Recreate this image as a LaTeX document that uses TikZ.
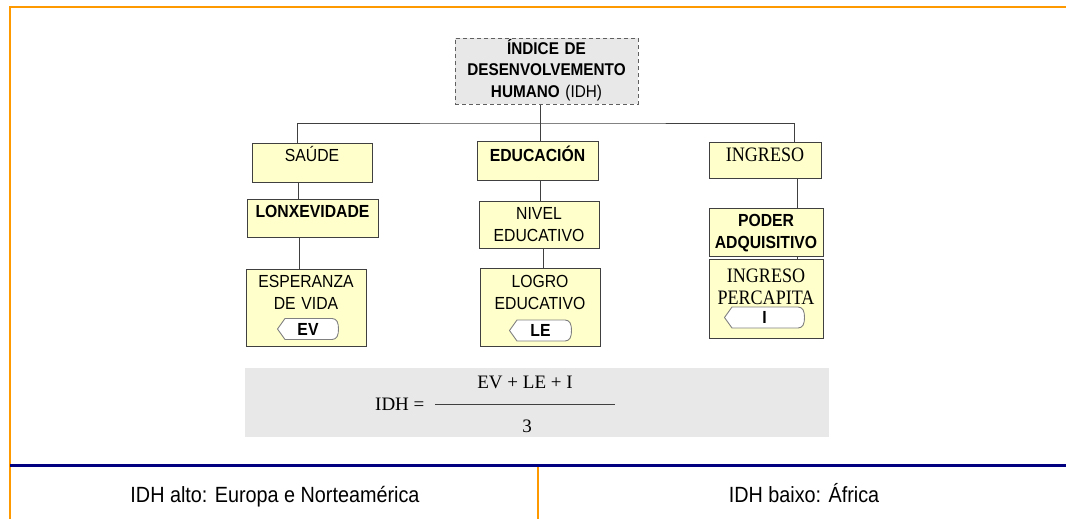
\documentclass[tikz,border=0pt]{standalone}
\usepackage{fontspec}
\setmainfont{Liberation Sans}[FakeStretch=0.9]
\newfontfamily\timesfont{Liberation Serif}[FakeStretch=0.88]
\newfontfamily\formulafont{Liberation Serif}
\newcommand{\cellfont}{\fontsize{17.5}{22}\selectfont}
\newcommand{\cellroman}{\timesfont\fontsize{20.5}{20.5}\selectfont}
\newcommand{\topfont}{\fontsize{17}{21.5}\selectfont}
\definecolor{frameorange}{HTML}{FF9900}
\definecolor{framenavy}{HTML}{000080}
\definecolor{cellyellow}{HTML}{FFFFCC}
\definecolor{panelgray}{HTML}{E8E8E8}
\definecolor{linegray}{HTML}{404040}
\definecolor{dashgray}{HTML}{606060}
\definecolor{taggray}{HTML}{808080}

\begin{document}
\begin{tikzpicture}
[x=1pt,y=-1pt,
  cell/.style={draw=linegray,fill=cellyellow,line width=0.9pt,inner sep=0pt,align=center,font=\cellfont},%
  idhbox/.style={cell,fill=panelgray,draw=dashgray,dash pattern=on 4pt off 3pt,font=\topfont},%
  link/.style={draw=linegray,line width=0.9pt},%
  tag/.style={inner sep=0pt,minimum height=22pt,font=\cellfont\bfseries,
    path picture={\filldraw[fill=white,draw=taggray,line width=0.9pt]
      ([xshift=.5pt]path picture bounding box.west)
      -- ([xshift=8pt,yshift=-.5pt]path picture bounding box.north west)
      -- ([xshift=-7pt,yshift=-.5pt]path picture bounding box.north east)
      .. controls ([xshift=-2pt,yshift=-.5pt]path picture bounding box.north east) and ([xshift=-.5pt,yshift=-5pt]path picture bounding box.north east) .. ([xshift=-.5pt]path picture bounding box.east)
      .. controls ([xshift=-.5pt,yshift=5pt]path picture bounding box.south east) and ([xshift=-2pt,yshift=.5pt]path picture bounding box.south east) .. ([xshift=-7pt,yshift=.5pt]path picture bounding box.south east)
      -- ([xshift=8pt,yshift=.5pt]path picture bounding box.south west) -- cycle;}},%
  mathtext/.style={inner sep=0pt,font=\formulafont\fontsize{19}{21}\selectfont},%
  foot/.style={inner sep=0pt,font=\fontsize{22}{24}\selectfont}]
\useasboundingbox (0,0) rectangle (1066,519);
%% frame lines
\draw[frameorange,line width=2pt] (9,7.5) -- (1066,7.5);
\draw[frameorange,line width=2pt] (10,7) -- (10,519);
\draw[framenavy,line width=3.2pt] (10,465.5) -- (1066,465.5);
\draw[frameorange,line width=1.2pt] (538,467) -- (538,519);
%% top box
\node[idhbox,anchor=north,text width=183pt,text height=16pt,text depth=50pt] (idh) at (546.5,38)
  {\bfseries ÍNDICE DE\\DESENVOLVEMENTO\\HUMANO \mdseries(IDH)};
%% the boxes
\foreach \nm/\cx/\ty/\bw/\bht/\bdp/\txt in {
  saude/312/143/120/18/21/{SAÚDE},
  educ/537.5/141/121/20/19/{\bfseries EDUCACIÓN},
  ingreso/765/142/112/19/17/{\cellroman INGRESO},
  lonx/312.5/199/131/18/20/{\bfseries LONXEVIDADE},
  nivel/539/201/120/18/29/{NIVEL\\EDUCATIVO},
  poder/766/208/114/18/30/{\bfseries PODER\\ADQUISITIVO},
  esper/306/269/120/18/59/{ESPERANZA\\DE VIDA},
  logro/540/268/120/19/59/{LOGRO\\EDUCATIVO},
  percap/766/259/114/23/56/{\cellroman INGRESO\\PERCAPITA}}
{
  \node[cell,anchor=north,text width=\bw pt,text height=\bht pt,text depth=\bdp pt] (\nm) at (\cx,\ty) {\txt};
}
%% the tree
\coordinate (hub) at (540,123);
\draw[link] (idh.south -| hub) -- (hub);
\draw[link] (saude.north -| 297,0) |- (hub) -| (ingreso.north -| 794,0);
\draw[link] (hub) -- (educ.north -| hub);
\foreach \u/\v/\lx in {saude/lonx/298, lonx/esper/299, educ/nivel/540,
  nivel/logro/543, ingreso/poder/797, poder/percap/797}
{
  \draw[link] (\u.south -| \lx,0) -- (\v.north -| \lx,0);
}
%% the tags
\foreach \nm/\cx/\cy/\bw/\txt in {ev/308/329/62/EV, le/540.5/330.5/63/LE, ii/764.5/317.5/81/I}
{
  \node[tag,minimum width=\bw pt] (\nm) at (\cx,\cy) {\txt};
}
%% formula
\node[fill=panelgray,inner sep=0pt,minimum width=584pt,minimum height=69pt] (formula) at (537,402.5) {};
\node[mathtext,anchor=base west] (lhs) at (375,410) {IDH =};
\node[mathtext,anchor=base] (num) at (525,388) {EV + LE + I};
\node[mathtext,anchor=base] (den) at (527,432) {3};
\draw[linegray,line width=0.9pt] (435,404) -- (615,404);
%% footer
\node[foot,anchor=base] (alto) at (275,502) {IDH alto: Europa e Norteamérica};
\node[foot,anchor=base] (baixo) at (804,502) {IDH baixo: África};
\end{tikzpicture}
\end{document}
